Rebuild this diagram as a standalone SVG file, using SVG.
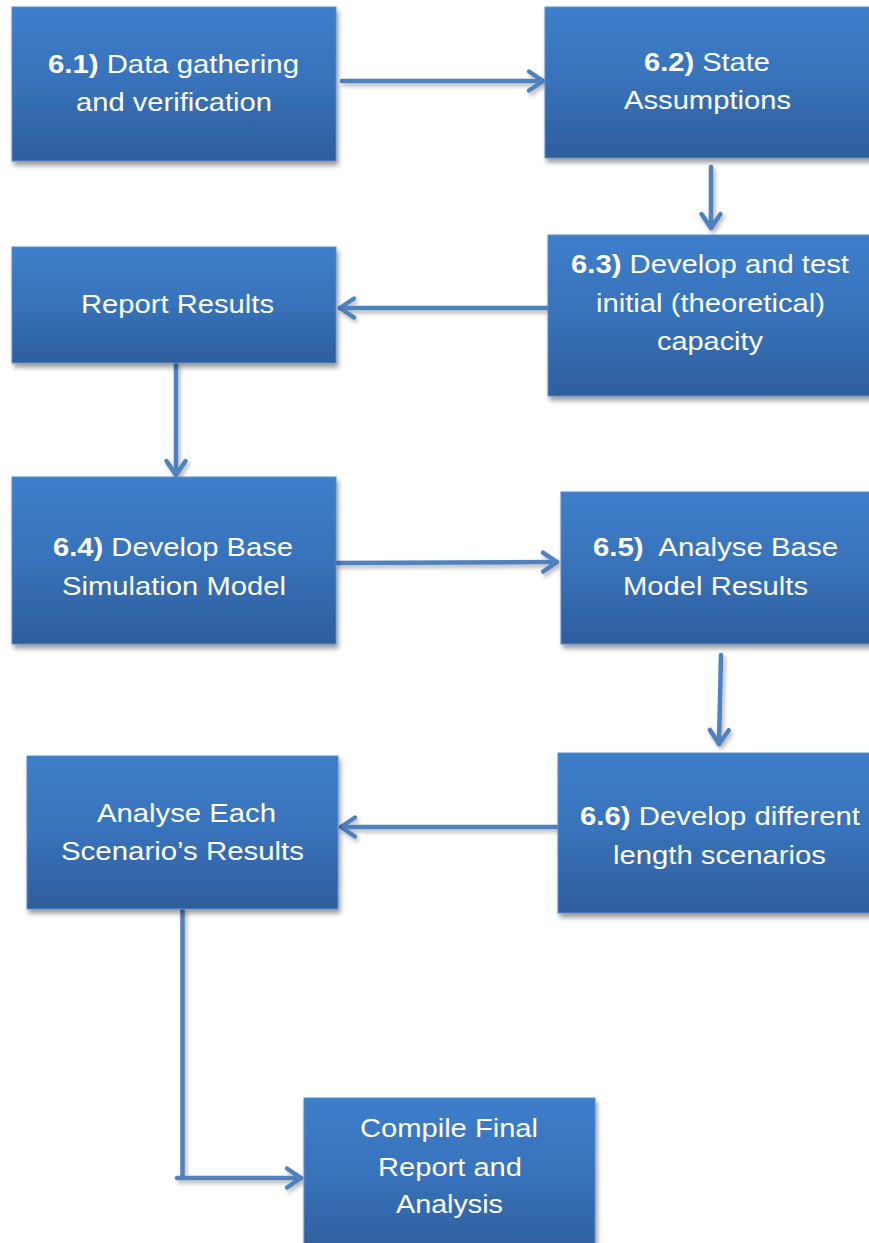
<svg xmlns="http://www.w3.org/2000/svg" width="869" height="1243" viewBox="0 0 869 1243">
<style>
.box{fill:url(#g);stroke:#5B8BC8;stroke-width:1;filter:url(#sh)}
.t{font-family:"Liberation Sans",Arial,sans-serif;font-size:26px;fill:#FFFFFF}
.b{font-weight:bold}
.c{fill:none;stroke:#4F81BD;stroke-width:4.5;stroke-linecap:round;stroke-linejoin:round}
</style>
<defs>
<linearGradient id="g" x1="0" y1="0" x2="0" y2="1">
<stop offset="0" stop-color="#3D7ECB"/>
<stop offset="0.5" stop-color="#3872BA"/>
<stop offset="1" stop-color="#2E5E9C"/>
</linearGradient>
<filter id="sh" x="-10%" y="-10%" width="125%" height="130%">
<feGaussianBlur in="SourceAlpha" stdDeviation="2.5"/>
<feOffset dx="1.5" dy="3.5" result="o"/>
<feComponentTransfer><feFuncA type="linear" slope="0.4"/></feComponentTransfer>
<feMerge><feMergeNode/><feMergeNode in="SourceGraphic"/></feMerge>
</filter>
<filter id="shl" x="-20%" y="-20%" width="140%" height="140%">
<feGaussianBlur in="SourceAlpha" stdDeviation="2"/>
<feOffset dx="1.5" dy="3" result="o"/>
<feComponentTransfer><feFuncA type="linear" slope="0.3"/></feComponentTransfer>
<feMerge><feMergeNode/><feMergeNode in="SourceGraphic"/></feMerge>
</filter>
<marker id="a" markerUnits="userSpaceOnUse" viewBox="-20 -14 24 28" markerWidth="24" markerHeight="28" refX="0" refY="0" orient="auto">
<path d="M-14,-9.5 L0,0 L-14,9.5" fill="none" stroke="#4F81BD" stroke-width="4.5" stroke-linecap="round" stroke-linejoin="round"/>
</marker>
</defs>
<rect width="869" height="1243" fill="#FFFFFF"/>

<g id="connectors" filter="url(#shl)">
<path class="c" d="M342,81 L543,81" marker-end="url(#a)"/>
<path class="c" d="M711,167 L711,228" marker-end="url(#a)"/>
<path class="c" d="M547,308 L340,308" marker-end="url(#a)"/>
<path class="c" d="M176,364 L176,475" marker-end="url(#a)"/>
<path class="c" d="M337,563 L557,562" marker-end="url(#a)"/>
<path class="c" d="M721,655 L719,744" marker-end="url(#a)"/>
<path class="c" d="M557,827 L341,827" marker-end="url(#a)"/>
<path class="c" d="M182.5,910 L182.5,1177"/>
<path class="c" d="M177,1178 L301,1178" marker-end="url(#a)"/>
</g>

<g id="n61">
<rect class="box" x="12" y="7" width="324" height="154"/>
<text class="t" x="48" y="73" textLength="251" lengthAdjust="spacingAndGlyphs"><tspan class="b">6.1)</tspan> Data gathering</text>
<text class="t" x="76" y="111" textLength="196" lengthAdjust="spacingAndGlyphs">and verification</text>
</g>

<g id="n62">
<rect class="box" x="545" y="7" width="330" height="151"/>
<text class="t" x="644" y="71" textLength="126" lengthAdjust="spacingAndGlyphs"><tspan class="b">6.2)</tspan> State</text>
<text class="t" x="624" y="109" textLength="167" lengthAdjust="spacingAndGlyphs">Assumptions</text>
</g>

<g id="n63">
<rect class="box" x="548" y="235" width="330" height="161"/>
<text class="t" x="571" y="273" textLength="278" lengthAdjust="spacingAndGlyphs"><tspan class="b">6.3)</tspan> Develop and test</text>
<text class="t" x="596" y="312" textLength="229" lengthAdjust="spacingAndGlyphs">initial (theoretical)</text>
<text class="t" x="657" y="350" textLength="106" lengthAdjust="spacingAndGlyphs">capacity</text>
</g>

<g id="nReport">
<rect class="box" x="12" y="247" width="324" height="116"/>
<text class="t" x="81" y="313" textLength="193" lengthAdjust="spacingAndGlyphs">Report Results</text>
</g>

<g id="n64">
<rect class="box" x="12" y="477" width="324" height="167"/>
<text class="t" x="53" y="556" textLength="240" lengthAdjust="spacingAndGlyphs"><tspan class="b">6.4)</tspan> Develop Base</text>
<text class="t" x="62" y="595" textLength="224" lengthAdjust="spacingAndGlyphs">Simulation Model</text>
</g>

<g id="n65">
<rect class="box" x="561" y="492" width="320" height="152"/>
<text class="t" x="593" y="556" textLength="245" lengthAdjust="spacingAndGlyphs" style="white-space:pre"><tspan class="b">6.5)</tspan>  Analyse Base</text>
<text class="t" x="623" y="595" textLength="185" lengthAdjust="spacingAndGlyphs">Model Results</text>
</g>

<g id="nAnalyse">
<rect class="box" x="27" y="756" width="311" height="153"/>
<text class="t" x="97" y="822" textLength="179" lengthAdjust="spacingAndGlyphs">Analyse Each</text>
<text class="t" x="61" y="860" textLength="243" lengthAdjust="spacingAndGlyphs">Scenario’s Results</text>
</g>

<g id="n66">
<rect class="box" x="558" y="753" width="320" height="160"/>
<text class="t" x="580" y="825" textLength="280" lengthAdjust="spacingAndGlyphs"><tspan class="b">6.6)</tspan> Develop different</text>
<text class="t" x="613" y="864" textLength="213" lengthAdjust="spacingAndGlyphs">length scenarios</text>
</g>

<g id="nCompile">
<rect class="box" x="304" y="1098" width="291" height="160"/>
<text class="t" x="360" y="1137" textLength="178" lengthAdjust="spacingAndGlyphs">Compile Final</text>
<text class="t" x="378" y="1176" textLength="144" lengthAdjust="spacingAndGlyphs">Report and</text>
<text class="t" x="396" y="1213" textLength="107" lengthAdjust="spacingAndGlyphs">Analysis</text>
</g>
</svg>
